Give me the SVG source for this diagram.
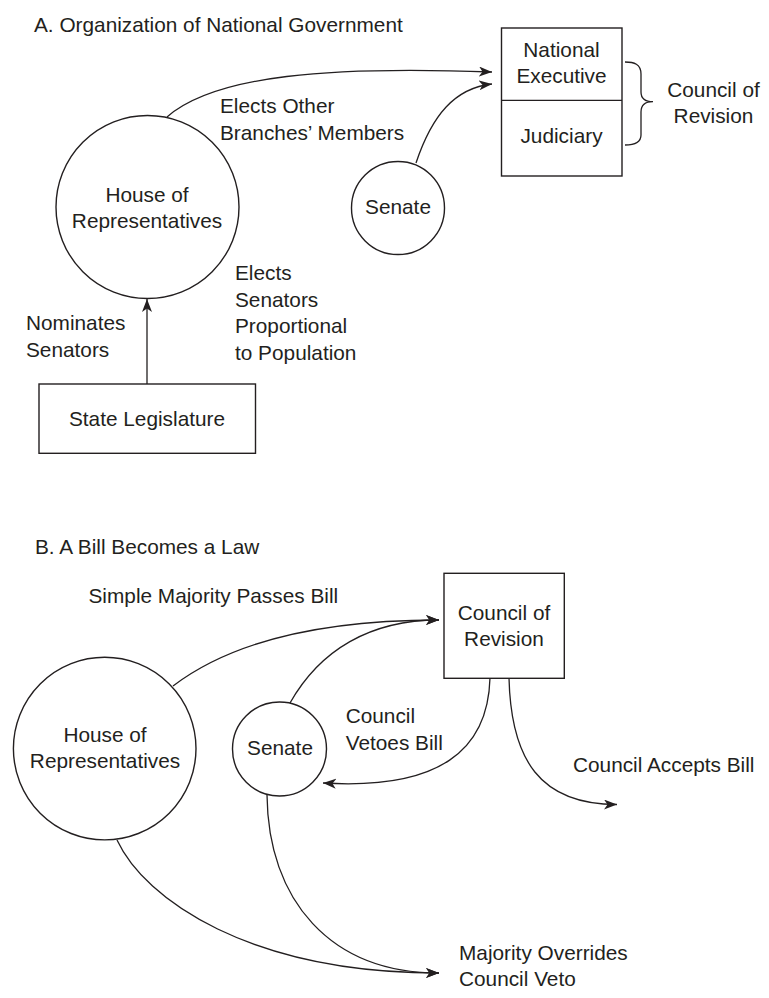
<svg xmlns="http://www.w3.org/2000/svg" width="769" height="998" viewBox="0 0 769 998">
<defs>
<style>
text{font-family:"Liberation Sans",Arial,sans-serif;font-size:20.8px;fill:#231f20}
.c{text-anchor:middle}
.n{fill:#fff;stroke:#231f20;stroke-width:1.4}
.e{fill:none;stroke:#231f20;stroke-width:1.3}
</style>
<marker id="ah" markerUnits="userSpaceOnUse" markerWidth="15" markerHeight="11" refX="13" refY="5" orient="auto">
<path d="M0,0 L13,5 L0,10 L3.5,5 Z" fill="#231f20"/>
</marker>
</defs>
<rect width="769" height="998" fill="#fff"/>

<text id="titleA" x="34" y="31.5">A. Organization of National Government</text>
<text id="titleB" x="35" y="553.5">B. A Bill Becomes a Law</text>

<g id="connectors">
<path class="e" d="M167,117 C215,75 330,66 492,72" marker-end="url(#ah)"/>
<path class="e" d="M416,163 C432,115 455,88 492,84" marker-end="url(#ah)"/>
<path class="e" d="M147,384 L147,299" marker-end="url(#ah)"/>
<path class="e" d="M625,62 C634,62 641,64 641,74 L641,92 C641,99 645,101.7 653,101.7 C645,101.7 641,105 641,112 L641,135 C641,143 634,145 625,145"/>
<path class="e" d="M173,686 C240,635 340,620 439,620" marker-end="url(#ah)"/>
<path class="e" d="M290,703 C320,650 370,620 439,620" marker-end="url(#ah)"/>
<path class="e" d="M490,678 C488,750 440,790 323,783" marker-end="url(#ah)"/>
<path class="e" d="M509,678 C511,760 540,804.5 617,804.5" marker-end="url(#ah)"/>
<path class="e" d="M117,840 C145,900 250,973 439,973" marker-end="url(#ah)"/>
<path class="e" d="M267,795 C268,900 330,973 439,973" marker-end="url(#ah)"/>
</g>

<g id="labels">
<text x="220" y="113.3">Elects Other</text>
<text x="220" y="140">Branches’ Members</text>
<text x="235" y="279.5">Elects</text>
<text x="235" y="306.5">Senators</text>
<text x="235" y="333.3">Proportional</text>
<text x="235" y="360">to Population</text>
<text x="26" y="330">Nominates</text>
<text x="26" y="356.5">Senators</text>
<text class="c" x="713.5" y="96.7">Council of</text>
<text class="c" x="713.5" y="122.7">Revision</text>
<text x="88.5" y="603.3">Simple Majority Passes Bill</text>
<text x="345.7" y="723.3">Council</text>
<text x="345.7" y="750">Vetoes Bill</text>
<text x="573" y="771.5">Council Accepts Bill</text>
<text x="459" y="960">Majority Overrides</text>
<text x="459" y="985.5">Council Veto</text>
</g>

<g id="execJudiciaryA">
<rect class="n" x="501.5" y="28" width="120.5" height="148"/>
<line class="e" x1="501.5" y1="100.3" x2="622" y2="100.3"/>
<text class="c" x="561.5" y="56.7">National</text>
<text class="c" x="561.5" y="83.3">Executive</text>
<text class="c" x="561.5" y="143.3">Judiciary</text>
</g>

<g id="houseA">
<circle class="n" cx="147.5" cy="207" r="91.5"/>
<text class="c" x="147" y="201.7">House of</text>
<text class="c" x="147" y="228.3">Representatives</text>
</g>

<g id="senateA">
<circle class="n" cx="398" cy="208" r="46.5"/>
<text class="c" x="398" y="213.7">Senate</text>
</g>

<g id="stateLegislature">
<rect class="n" x="39" y="384" width="216.5" height="69.3"/>
<text class="c" x="147" y="425.7">State Legislature</text>
</g>

<g id="councilB">
<rect class="n" x="444" y="573.3" width="120.3" height="105"/>
<text class="c" x="504" y="620">Council of</text>
<text class="c" x="504" y="646">Revision</text>
</g>

<g id="houseB">
<circle class="n" cx="104.7" cy="748.6" r="91.3"/>
<text class="c" x="105" y="741.7">House of</text>
<text class="c" x="105" y="768.3">Representatives</text>
</g>

<g id="senateB">
<circle class="n" cx="279.5" cy="749" r="47"/>
<text class="c" x="280" y="755">Senate</text>
</g>
</svg>
